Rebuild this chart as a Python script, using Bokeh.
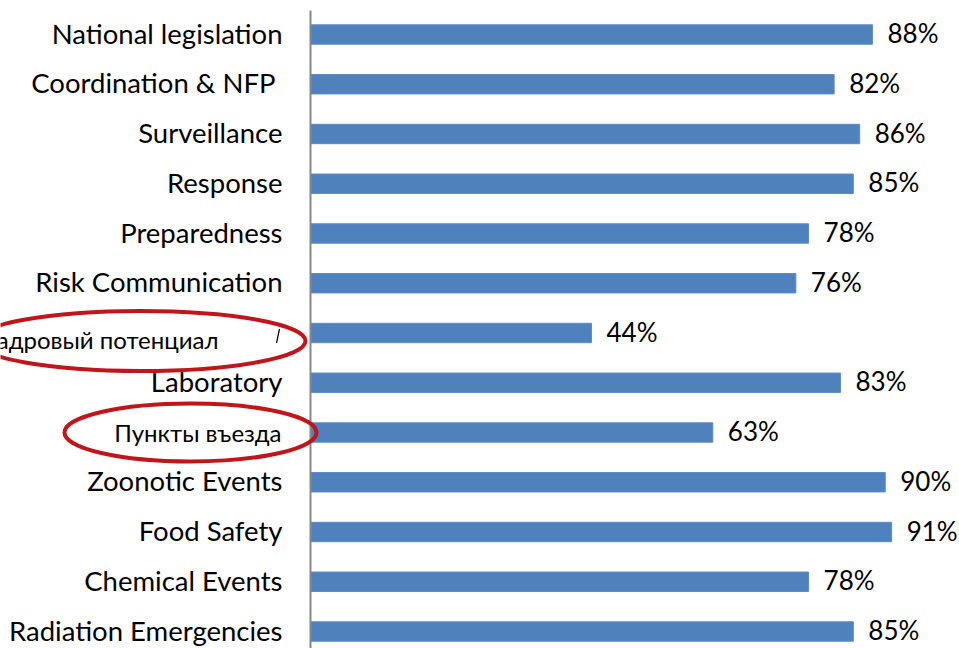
from bokeh.plotting import figure
from bokeh.models import Range1d, ColumnDataSource
from bokeh.core.properties import value
from bokeh.embed import file_html
from bokeh.resources import INLINE

categories = ["National legislation", "Coordination & NFP ", "Surveillance", "Response",
              "Preparedness", "Risk Communication", "Кадровый потенциал", "Laboratory",
              "Пункты въезда", "Zoonotic Events", "Food Safety", "Chemical Events",
              "Radiation Emergencies"]
values = [88, 82, 86, 85, 78, 76, 44, 83, 63, 90, 91, 78, 85]
value_labels = [f"{v}%" for v in values]
highlighted = ["Кадровый потенциал", "Пункты въезда"]

W, H = 959, 648
px_per_pct = 6.386
x0_px = 310
row0_px = 34
row_px = 49.75

x_start = -x0_px / px_per_pct
x_end = (W - x0_px) / px_per_pct
y_top = -row0_px / row_px
y_bottom = (H - row0_px) / row_px

p = figure(width=W, height=H, output_backend="svg", toolbar_location=None,
           x_range=Range1d(x_start, x_end), y_range=Range1d(y_bottom, y_top),
           min_border=0, x_axis_location=None, y_axis_location=None)
p.grid.visible = False
p.outline_line_color = None
p.background_fill_color = "white"
p.border_fill_color = "white"

idx = list(range(len(categories)))
dy_txt = -1.5 / row_px
src = ColumnDataSource(dict(y=idx, ty=[i + dy_txt for i in idx], v=values, lab=value_labels,
                            lx=[v + 15 / px_per_pct for v in values]))

p.hbar(y="y", right="v", left=0, height=0.39, source=src, fill_color="#4F81BD",
       line_color="#5B8CC6", line_width=1)

# category axis line
p.segment(x0=[0], y0=[y_top + 10 / row_px], x1=[0], y1=[y_bottom + 1],
          line_color="#878787", line_width=2)

FONT = value("Lato")
normal_idx = [i for i, c in enumerate(categories) if c not in highlighted]
p.text(x=[-28 / px_per_pct] * len(normal_idx), y=[i + dy_txt for i in normal_idx],
       text=[categories[i] for i in normal_idx], text_align="right", text_baseline="middle",
       text_font=FONT, text_font_size="27.5px", text_color="#000000")

p.text(x="lx", y="ty", text="lab", source=src, text_align="left", text_baseline="middle",
       text_font=FONT, text_font_size="26px", text_color="#000000")

# highlighted (Russian) labels
hi1 = categories.index("Кадровый потенциал")
hi2 = categories.index("Пункты въезда")
p.text(x=[(218 - x0_px) / px_per_pct], y=[hi1 + 6 / row_px], text=["Кадровый потенциал"],
       text_align="right", text_baseline="middle", text_font=FONT,
       text_font_size="24px", text_color="#000000")
p.text(x=[(281 - x0_px) / px_per_pct], y=[hi2], text=["Пункты въезда"],
       text_align="right", text_baseline="middle", text_font=FONT,
       text_font_size="24px", text_color="#000000")

# red ellipses
p.ellipse(x=[(140 - x0_px) / px_per_pct, (190 - x0_px) / px_per_pct],
          y=[hi1 + 8 / row_px, hi2],
          width=[330, 252], height=[60, 58], width_units="screen", height_units="screen",
          fill_color=None, line_color="#C0161B", line_width=4)

# small stray stroke
p.segment(x0=[(276 - x0_px) / px_per_pct], y0=[hi1 + 10 / row_px],
          x1=[(279 - x0_px) / px_per_pct], y1=[hi1 - 4 / row_px],
          line_color="#000000", line_width=1.2)

open("out.html", "w").write(file_html(p, INLINE))
